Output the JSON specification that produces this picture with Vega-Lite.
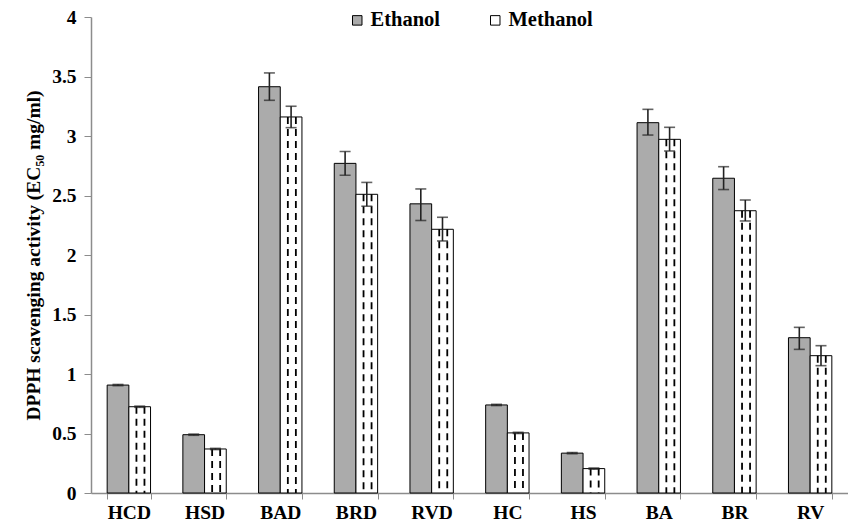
{
  "$schema": "https://vega.github.io/schema/vega-lite/v6.json",
  "width": 757,
  "height": 476,
  "autosize": {"type": "none"},
  "padding": {"left": 91, "top": 17, "right": 0, "bottom": 33},
  "background": "white",
  "config": {
    "view": {"stroke": null},
    "font": "Liberation Serif",
    "axis": {"labelFont": "Liberation Serif", "titleFont": "Liberation Serif", "labelFontWeight": "bold", "titleFontWeight": "bold", "labelColor": "black", "titleColor": "black", "domainColor": "#8c8c8c", "tickColor": "#8c8c8c", "grid": false},
    "legend": {"labelFont": "Liberation Serif", "labelFontWeight": "bold", "labelColor": "black"}
  },
  "data": {"values": [
    {"cat": "HCD", "series": "Ethanol", "value": 0.907, "lo": 0.902, "hi": 0.912},
    {"cat": "HCD", "series": "Methanol", "value": 0.725, "lo": 0.72, "hi": 0.73},
    {"cat": "HSD", "series": "Ethanol", "value": 0.49, "lo": 0.485, "hi": 0.495},
    {"cat": "HSD", "series": "Methanol", "value": 0.37, "lo": 0.365, "hi": 0.375},
    {"cat": "BAD", "series": "Ethanol", "value": 3.414, "lo": 3.3, "hi": 3.53},
    {"cat": "BAD", "series": "Methanol", "value": 3.16, "lo": 3.07, "hi": 3.25},
    {"cat": "BRD", "series": "Ethanol", "value": 2.77, "lo": 2.67, "hi": 2.87},
    {"cat": "BRD", "series": "Methanol", "value": 2.51, "lo": 2.41, "hi": 2.61},
    {"cat": "RVD", "series": "Ethanol", "value": 2.43, "lo": 2.29, "hi": 2.555},
    {"cat": "RVD", "series": "Methanol", "value": 2.216, "lo": 2.118, "hi": 2.317},
    {"cat": "HC", "series": "Ethanol", "value": 0.74, "lo": 0.735, "hi": 0.745},
    {"cat": "HC", "series": "Methanol", "value": 0.505, "lo": 0.5, "hi": 0.51},
    {"cat": "HS", "series": "Ethanol", "value": 0.335, "lo": 0.33, "hi": 0.34},
    {"cat": "HS", "series": "Methanol", "value": 0.205, "lo": 0.2, "hi": 0.21},
    {"cat": "BA", "series": "Ethanol", "value": 3.112, "lo": 3.008, "hi": 3.224},
    {"cat": "BA", "series": "Methanol", "value": 2.972, "lo": 2.874, "hi": 3.073},
    {"cat": "BR", "series": "Ethanol", "value": 2.645, "lo": 2.55, "hi": 2.742},
    {"cat": "BR", "series": "Methanol", "value": 2.372, "lo": 2.286, "hi": 2.462},
    {"cat": "RV", "series": "Ethanol", "value": 1.305, "lo": 1.207, "hi": 1.392},
    {"cat": "RV", "series": "Methanol", "value": 1.154, "lo": 1.07, "hi": 1.238}
  ]},
  "encoding": {
    "x": {
      "field": "cat", "type": "nominal",
      "sort": ["HCD", "HSD", "BAD", "BRD", "RVD", "HC", "HS", "BA", "BR", "RV"],
      "scale": {"paddingInner": 0.427, "paddingOuter": 0.2135},
      "axis": {"title": null, "labelAngle": 0, "labelFontSize": 19.5, "tickBand": "extent", "tickSize": 6, "labelPadding": 4, "domainWidth": 1.5}
    }
  },
  "layer": [
    {
      "mark": {"type": "bar", "stroke": "black", "strokeWidth": 1},
      "encoding": {
        "xOffset": {"field": "series", "type": "nominal", "scale": {"domain": ["Ethanol", "Methanol"], "paddingInner": 0, "paddingOuter": 0}},
        "y": {"field": "value", "type": "quantitative", "scale": {"domain": [0, 4], "nice": false},
          "axis": {"title": "DPPH scavenging activity (EC₅₀ mg/ml)", "titleFontSize": 19.5, "titlePadding": 8, "labelFontSize": 19.5, "values": [0, 0.5, 1, 1.5, 2, 2.5, 3, 3.5, 4], "format": "~g", "tickSize": 7, "labelPadding": 8, "domainWidth": 1.5}},
        "fill": {"field": "series", "type": "nominal", "scale": {"domain": ["Ethanol", "Methanol"], "range": ["#ababab", "white"]},
          "legend": {"title": null, "orient": "none", "legendX": 256, "legendY": -7, "direction": "horizontal", "symbolType": "square", "symbolSize": 90, "symbolStrokeColor": "black", "symbolStrokeWidth": 1, "labelFontSize": 20.5, "columnPadding": 45, "labelOffset": 3}}
      }
    },
    {
      "transform": [{"filter": "datum.series === 'Methanol'"}],
      "mark": {"type": "rule", "color": "black", "strokeWidth": 1.8, "strokeDash": [7, 5]},
      "encoding": {
        "x": {"field": "cat", "type": "nominal", "bandPosition": 0.675, "sort": ["HCD", "HSD", "BAD", "BRD", "RVD", "HC", "HS", "BA", "BR", "RV"]},
        "y": {"field": "value", "type": "quantitative"},
        "y2": {"datum": 0}
      }
    },
    {
      "transform": [{"filter": "datum.series === 'Methanol'"}],
      "mark": {"type": "rule", "color": "black", "strokeWidth": 1.8, "strokeDash": [7, 5]},
      "encoding": {
        "x": {"field": "cat", "type": "nominal", "bandPosition": 0.86, "sort": ["HCD", "HSD", "BAD", "BRD", "RVD", "HC", "HS", "BA", "BR", "RV"]},
        "y": {"field": "value", "type": "quantitative"},
        "y2": {"datum": 0}
      }
    },
    {
      "mark": {"type": "rule", "color": "#222222", "strokeWidth": 1.6},
      "encoding": {
        "xOffset": {"field": "series", "type": "nominal", "scale": {"domain": ["Ethanol", "Methanol"], "paddingInner": 0, "paddingOuter": 0}},
        "y": {"field": "lo", "type": "quantitative"},
        "y2": {"field": "hi"}
      }
    },
    {
      "mark": {"type": "tick", "color": "#222222", "thickness": 1.6, "size": 11},
      "encoding": {
        "xOffset": {"field": "series", "type": "nominal", "scale": {"domain": ["Ethanol", "Methanol"], "paddingInner": 0, "paddingOuter": 0}},
        "y": {"field": "hi", "type": "quantitative"}
      }
    },
    {
      "mark": {"type": "tick", "color": "#222222", "thickness": 1.6, "size": 11},
      "encoding": {
        "xOffset": {"field": "series", "type": "nominal", "scale": {"domain": ["Ethanol", "Methanol"], "paddingInner": 0, "paddingOuter": 0}},
        "y": {"field": "lo", "type": "quantitative"}
      }
    }
  ]
}
